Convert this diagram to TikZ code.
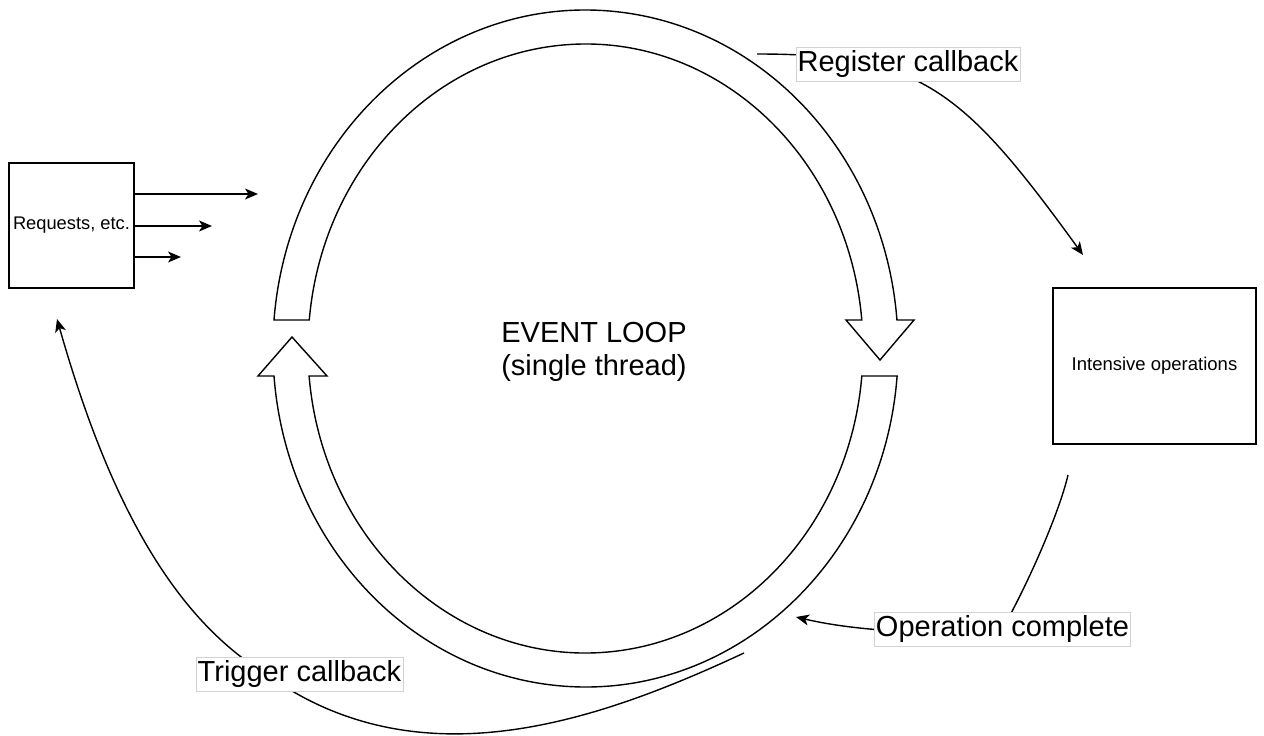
\documentclass[tikz,border=0pt]{standalone}
\usepackage{fontspec}
\setmainfont{Liberation Sans}
\usetikzlibrary{arrows.meta}
\begin{document}
\begin{tikzpicture}[x=1pt,y=-1pt,
  loopshape/.style={draw=black,fill=white,line width=1.4pt,line join=miter},
  box/.style={draw=black,line width=1.5pt,inner sep=1pt,font=\fontsize{18.3}{21}\selectfont},
  edge/.style={line width=1.4pt,-{Stealth[length=13pt,width=11pt,inset=3.5pt]}},
  lab/.style={fill=white,draw=gray!35,line width=0.8pt,inner xsep=1.6pt,inner ysep=0pt,minimum height=34pt,font=\fontsize{29}{33}\selectfont}]
\useasboundingbox (0,0) rectangle (1264,736);

% upper curved block arrow (points down on the right)
\draw[loopshape] (274.0,320)
  arc[start angle=175.17,end angle=4.83,x radius=312.6pt,y radius=338.5pt]
  -- (914,320) -- (880,360) -- (846,320) -- (861.8,320)
  arc[start angle=5.37,end angle=174.63,x radius=277.5pt,y radius=304.5pt]
  -- cycle;
% lower curved block arrow (points up on the left)
\draw[loopshape] (897.1,376)
  arc[start angle=-4.66,end angle=-175.34,x radius=312.6pt,y radius=338.5pt]
  -- (258,376) -- (292,337) -- (327,376) -- (309.1,376)
  arc[start angle=-174.82,end angle=-5.18,x radius=277.5pt,y radius=304.5pt]
  -- cycle;

\node[inner sep=0pt,align=center,font=\fontsize{29}{33}\selectfont] (ev) at (594,352) {EVENT LOOP\\(single thread)};

\node[box,minimum width=125pt,minimum height=125pt] (req) at (71.5,225.5) {Requests, etc.};
\node[box,minimum width=203pt,minimum height=156pt,font=\fontsize{18.5}{21}\selectfont] (int) at (1154.5,366) {Intensive operations};

% request arrows
\coordinate (r1) at (258,194);
\coordinate (r2) at (212,226);
\coordinate (r3) at (181,257);
\draw[edge] (req.east |- r1) -- (r1);
\draw[edge] (req.east |- r2) -- (r2);
\draw[edge] (req.east |- r3) -- (r3);

% register callback
\coordinate (rcS) at (757,54);
\coordinate (rcE) at (1083,255);
\draw[edge] (rcS) .. controls (920,54) and (962,88) .. (rcE);
\node[lab] (rc) at (908,64) {Register callback};

% operation complete
\coordinate (ocS) at (1068,475);
\coordinate (ocC) at (1002.5,629);
\coordinate (ocE) at (796,617);
\draw[edge] (ocS) .. controls (1060,510) and (1030,580) .. (ocC)
  .. controls (940,635) and (860,632) .. (ocE);
\node[lab] (oc) at (ocC) {Operation complete};

% trigger callback
\coordinate (tcS) at (744,653);
\coordinate (tcM) at (266,674);
\coordinate (tcE) at (57,319);
\draw[edge] (tcS) .. controls (600,720) and (420,785) .. (tcM)
  .. controls (160,610) and (100,470) .. (tcE);
\node[lab] (tc) at (299.5,674) {Trigger callback};
\end{tikzpicture}
\end{document}
